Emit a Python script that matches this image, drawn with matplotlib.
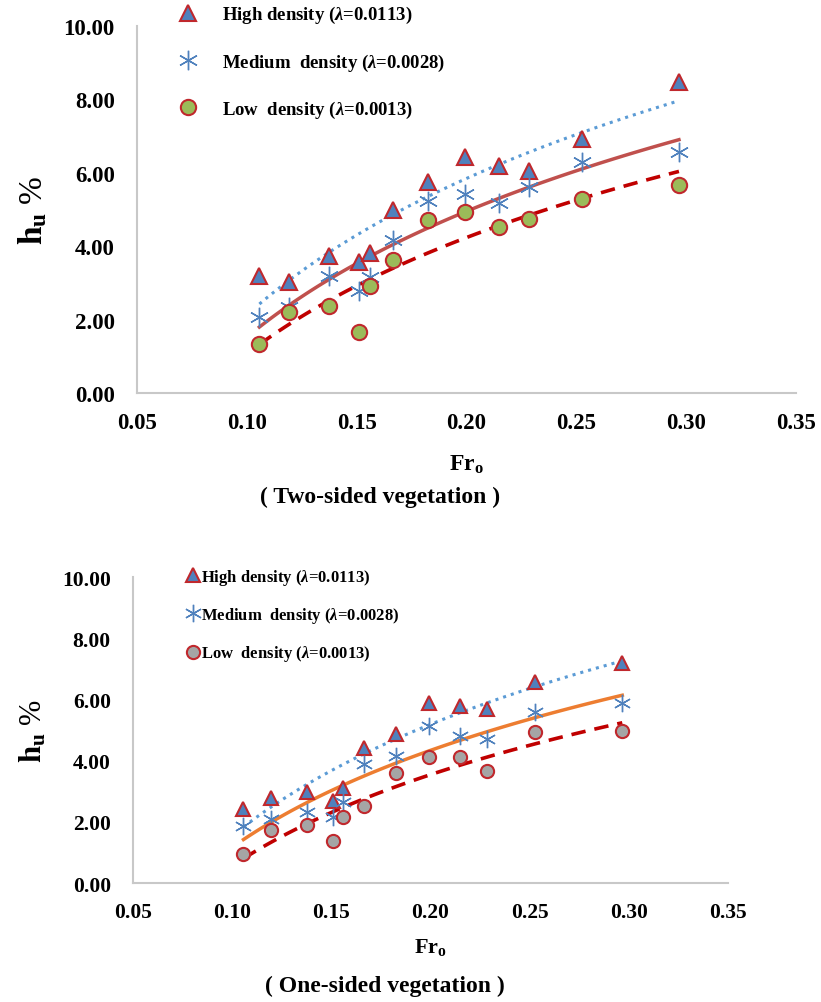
import numpy as np
import matplotlib
matplotlib.use('Agg')
import matplotlib.pyplot as plt
from matplotlib.ticker import FormatStrFormatter

plt.rcParams['font.family'] = ['Liberation Serif', 'DejaVu Serif']
plt.rcParams['font.weight'] = 'bold'
plt.rcParams['mathtext.fontset'] = 'custom'
plt.rcParams['mathtext.rm'] = 'Liberation Serif:bold'
plt.rcParams['mathtext.it'] = 'Liberation Serif:italic:bold'
plt.rcParams['mathtext.bf'] = 'Liberation Serif:bold'

# Froude numbers (same runs for both panels)
fr = [0.1057, 0.1194, 0.1376, 0.151, 0.1561, 0.1664, 0.1825, 0.1995, 0.2147, 0.2286, 0.2526, 0.2967]

# two-sided vegetation, hu %
two_high = [3.20, 3.02, 3.72, 3.56, 3.81, 4.99, 5.74, 6.42, 6.18, 6.06, 6.92, 8.47]
two_med = [2.06, 2.35, 3.18, 2.77, 3.15, 4.17, 5.24, 5.42, 5.18, 5.60, 6.30, 6.56]
two_low = [1.34, 2.20, 2.38, 1.65, 2.92, 3.63, 4.70, 4.92, 4.51, 4.74, 5.29, 5.68]

# one-sided vegetation, hu %
one_high = [2.42, 2.77, 2.96, 2.69, 3.10, 4.40, 4.87, 5.88, 5.79, 5.69, 6.56, 7.20]
one_med = [1.85, 2.09, 2.31, 2.15, 2.64, 3.89, 4.14, 5.12, 4.81, 4.71, 5.58, 5.87]
one_low = [0.95, 1.74, 1.90, 1.38, 2.17, 2.51, 3.59, 4.11, 4.11, 3.67, 4.94, 4.98]

labels = ['High density ($\\lambda$=0.0113)',
          'Medium  density ($\\lambda$=0.0028)',
          'Low  density ($\\lambda$=0.0013)']

xticks = [0.05, 0.10, 0.15, 0.20, 0.25, 0.30, 0.35]
yticks = [0, 2, 4, 6, 8, 10]

RED_EDGE = '#C0282D'
BLUE = '#4F81BD'


def log_trend(x, y):
    # Excel style logarithmic trendline
    x = np.asarray(x)
    a, b = np.polyfit(np.log(x), y, 1)
    xs = np.linspace(x.min(), x.max(), 100)
    return xs, a * np.log(xs) + b


def panel(ax, high, med, low, circle_color, mid_line_color, ms, tick_fs):
    xs, ys = log_trend(fr, high)
    ax.plot(xs, ys, ls=':', color='#5B9BD5', lw=2.2, zorder=2)
    xs, ys = log_trend(fr, med)
    ax.plot(xs, ys, ls='-', color=mid_line_color, lw=2.5, zorder=2)
    xs, ys = log_trend(fr, low)
    ax.plot(xs, ys, ls=(0, (4, 2.5)), color='#C00000', lw=2.6, zorder=2)

    h1, = ax.plot(fr, high, ls='none', marker='^', ms=ms + 1, mfc=BLUE, mec=RED_EDGE, mew=1.5, zorder=3)
    h2, = ax.plot(fr, med, ls='none', marker=(6, 2, 0), ms=ms + 3, mfc=BLUE, mec=BLUE, mew=1.0, zorder=3)
    h3, = ax.plot(fr, low, ls='none', marker='o', ms=ms, mfc=circle_color, mec=RED_EDGE, mew=1.5, zorder=3)

    ax.set_xlim(0.05, 0.35)
    ax.set_ylim(0, 10)
    ax.set_xticks(xticks)
    ax.set_yticks(yticks)
    ax.xaxis.set_major_formatter(FormatStrFormatter('%.2f'))
    ax.yaxis.set_major_formatter(FormatStrFormatter('%.2f'))
    ax.tick_params(length=0, labelsize=tick_fs)
    ax.tick_params(axis='y', pad=16)
    ax.tick_params(axis='x', pad=14)
    for s in ['top', 'right']:
        ax.spines[s].set_visible(False)
    for s in ['left', 'bottom']:
        ax.spines[s].set_color('#C8C8C8')
        ax.spines[s].set_linewidth(1.5)
    return [h1, h2, h3]


fig = plt.figure(figsize=(8.21, 10.03), dpi=100)

# top: two-sided
ax1 = fig.add_axes([0.1669, 0.6072, 0.8027, 0.3659])
hs = panel(ax1, two_high, two_med, two_low, '#9BBB59', '#C0504D', 11, 16.5)
ax1.legend(hs, labels, loc='upper left', bbox_to_anchor=(0.2175, 0.995),
           bbox_transform=fig.transFigure, frameon=False, fontsize=13.5,
           handlelength=1.0, handletextpad=1.3, labelspacing=1.4,
           borderpad=0, borderaxespad=0, numpoints=1)
ax1.set_ylabel('$\\mathrm{h_u}$ %', fontsize=24, labelpad=10)
ax1.set_xlabel('$\\mathrm{Fr_o}$', fontsize=17, labelpad=14)
fig.text(380 / 821, 1 - 497 / 1003, '( Two-sided vegetation )', ha='center', va='center',
         fontsize=17, fontweight='bold')

# bottom: one-sided
ax2 = fig.add_axes([0.162, 0.1186, 0.7247, 0.3051])
hs = panel(ax2, one_high, one_med, one_low, '#A5A5A5', '#ED7D31', 9.5, 15.5)
ax2.legend(hs, labels, loc='upper left', bbox_to_anchor=(0.2269, 0.434),
           bbox_transform=fig.transFigure, frameon=False, fontsize=12,
           handlelength=0.8, handletextpad=0.1, labelspacing=1.1,
           borderpad=0, borderaxespad=0, numpoints=1)
ax2.set_ylabel('$\\mathrm{h_u}$ %', fontsize=22, labelpad=10)
ax2.set_xlabel('$\\mathrm{Fr_o}$', fontsize=16, labelpad=10)
fig.text(385 / 821, 1 - 986 / 1003, '( One-sided vegetation )', ha='center', va='center',
         fontsize=17, fontweight='bold')

fig.savefig('out.png', dpi=100)
